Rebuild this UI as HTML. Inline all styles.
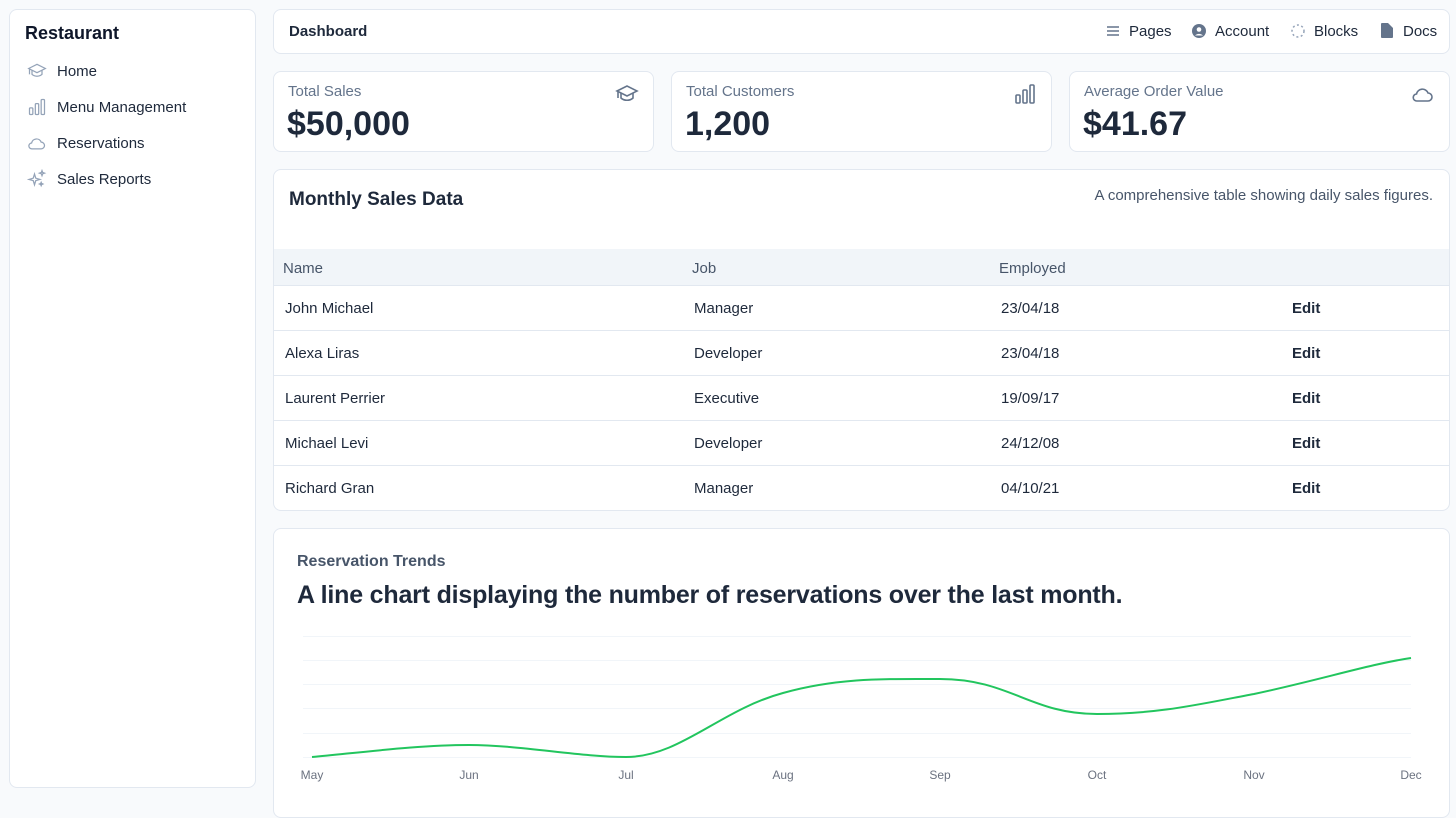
<!DOCTYPE html>
<html><head><style>
*{box-sizing:border-box;margin:0;padding:0}
body{width:1456px;height:800px;background:#f8fafc;font-family:"Liberation Sans",sans-serif;position:relative;overflow:hidden;color:#1e293b}
.card{position:absolute;background:#fff;border:1px solid #e2e8f0;border-radius:8px}
.abs{position:absolute;white-space:nowrap}
.nav{position:absolute;left:57px;font-size:15px;color:#1e293b}
.ic{position:absolute}
.lbl{font-size:15px;color:#64748b}
.big{font-size:34px;font-weight:bold;color:#1e293b}
.th{font-size:15px;color:#475569}
.td{font-size:15px;color:#1e293b}
</style></head><body>
<div class="card" style="left:9px;top:9px;width:247px;height:779px"></div>
<div class="abs" style="left:25px;top:23px;font-size:18px;font-weight:bold;color:#0f172a">Restaurant</div>
<svg class="ic" style="left:27px;top:61px" width="20" height="20" viewBox="0 0 24 24" fill="none" stroke="#94a3b8" stroke-width="1.5"><path d="M2 9l10-5 10 5-10 5z"/><path d="M6 11v5c3 3 9 3 12 0v-5"/><path d="M3 10v6"/></svg>
<div class="nav" style="top:63px">Home</div>
<svg class="ic" style="left:27px;top:97px" width="20" height="20" viewBox="0 0 24 24" fill="none" stroke="#94a3b8" stroke-width="1.5"><rect x="3" y="13" width="4" height="8" rx="1"/><rect x="10" y="8" width="4" height="13" rx="1"/><rect x="17" y="3" width="4" height="18" rx="1"/></svg>
<div class="nav" style="top:99px">Menu Management</div>
<svg class="ic" style="left:27px;top:133px" width="20" height="20" viewBox="0 0 24 24" fill="none" stroke="#94a3b8" stroke-width="1.5"><path d="M6 19h11a4 4 0 000-8 6 6 0 00-11.5 1A3.5 3.5 0 006 19z"/></svg>
<div class="nav" style="top:135px">Reservations</div>
<svg class="ic" style="left:27px;top:169px" width="20" height="20" viewBox="0 0 24 24" fill="none" stroke="#94a3b8" stroke-width="1.5"><path d="M9 6l1.5 5 5 1.5-5 1.5L9 19l-1.5-5-5-1.5 5-1.5z"/><path d="M18 2l.8 2.2L21 5l-2.2.8L18 8l-.8-2.2L15 5l2.2-.8z"/><path d="M17 16l.6 1.4L19 18l-1.4.6L17 20l-.6-1.4L15 18l1.4-.6z"/></svg>
<div class="nav" style="top:171px">Sales Reports</div>

<div class="card" style="left:273px;top:9px;width:1177px;height:45px"></div>
<div class="abs" style="left:289px;top:23px;font-size:15px;font-weight:bold;color:#1e293b">Dashboard</div>
<svg class="ic" style="left:1106px;top:25px" width="14" height="12"><path d="M1 2h12M1 6h12M1 10h12" stroke="#64748b" stroke-width="1.5"/></svg>
<div class="abs" style="left:1129px;top:23px;font-size:15px">Pages</div>
<svg class="ic" style="left:1192px;top:24px" width="14" height="14"><circle cx="7" cy="7" r="7" fill="#64748b"/><circle cx="7" cy="5.5" r="2.3" fill="#fff"/><path d="M3 11.5a5 4 0 018 0" fill="#fff"/></svg>
<div class="abs" style="left:1215px;top:23px;font-size:15px">Account</div>
<svg class="ic" style="left:1291px;top:24px" width="14" height="14"><circle cx="7" cy="7" r="6" fill="none" stroke="#94a3b8" stroke-width="1.5" stroke-dasharray="2 2.5"/></svg>
<div class="abs" style="left:1314px;top:23px;font-size:15px">Blocks</div>
<svg class="ic" style="left:1381px;top:23px" width="12" height="15"><path d="M0 1a1 1 0 011-1h6l5 5v9a1 1 0 01-1 1H1a1 1 0 01-1-1z" fill="#64748b"/></svg>
<div class="abs" style="left:1403px;top:23px;font-size:15px">Docs</div>

<div class="card" style="left:273px;top:71px;width:381px;height:81px"></div>
<div class="abs lbl" style="left:288px;top:83px">Total Sales</div>
<div class="abs big" style="left:287px;top:105px">$50,000</div>
<svg class="ic" style="left:615px;top:82px" width="24" height="24" viewBox="0 0 24 24" fill="none" stroke="#64748b" stroke-width="1.6"><path d="M2 9l10-5 10 5-10 5z"/><path d="M6 11v5c3 3 9 3 12 0v-5"/><path d="M3 10v6"/></svg>
<div class="card" style="left:671px;top:71px;width:381px;height:81px"></div>
<div class="abs lbl" style="left:686px;top:83px">Total Customers</div>
<div class="abs big" style="left:685px;top:105px">1,200</div>
<svg class="ic" style="left:1014px;top:82px" width="24" height="24" viewBox="0 0 24 24" fill="none" stroke="#64748b" stroke-width="1.6"><rect x="2" y="13" width="4" height="8" rx="1"/><rect x="9" y="8" width="4" height="13" rx="1"/><rect x="16" y="3" width="4" height="18" rx="1"/></svg>
<div class="card" style="left:1069px;top:71px;width:381px;height:81px"></div>
<div class="abs lbl" style="left:1084px;top:83px">Average Order Value</div>
<div class="abs big" style="left:1083px;top:105px">$41.67</div>
<svg class="ic" style="left:1411px;top:82px" width="24" height="24" viewBox="0 0 24 24" fill="none" stroke="#64748b" stroke-width="1.6"><path d="M6 19h11a4 4 0 000-8 6 6 0 00-11.5 1A3.5 3.5 0 006 19z"/></svg>

<div class="card" style="left:273px;top:169px;width:1177px;height:342px;overflow:hidden">
 <div class="abs" style="left:15px;top:19px;font-size:19px;font-weight:bold;color:#1e293b">Monthly Sales Data</div>
 <div class="abs" style="right:16px;top:17px;font-size:15px;color:#475569">A comprehensive table showing daily sales figures.</div>
 <div class="abs" style="left:0;top:79px;width:1177px;height:37px;background:#f1f5f9;border-bottom:1px solid #e2e8f0"></div>
 <div class="abs th" style="left:9px;top:90px">Name</div>
 <div class="abs th" style="left:418px;top:90px">Job</div>
 <div class="abs th" style="left:725px;top:90px">Employed</div>
</div>
<div id="rows"></div>
<script>
var d=[["John Michael","Manager","23/04/18"],["Alexa Liras","Developer","23/04/18"],["Laurent Perrier","Executive","19/09/17"],["Michael Levi","Developer","24/12/08"],["Richard Gran","Manager","04/10/21"]];
var h="";d.forEach(function(r,i){var y=286+45*i;
if(i<4)h+='<div class="abs" style="left:274px;top:'+(y+44)+'px;width:1175px;height:1px;background:#e2e8f0"></div>';
var ty=y+14;
h+='<div class="abs td" style="left:285px;top:'+ty+'px">'+r[0]+'</div><div class="abs td" style="left:694px;top:'+ty+'px">'+r[1]+'</div><div class="abs td" style="left:1001px;top:'+ty+'px">'+r[2]+'</div><div class="abs td" style="left:1292px;top:'+ty+'px;font-weight:bold">Edit</div>';});
document.getElementById("rows").innerHTML=h;
</script>

<div class="card" style="left:273px;top:528px;width:1177px;height:290px"></div>
<div class="abs" style="left:297px;top:553px;font-size:16px;font-weight:bold;color:#475569">Reservation Trends</div>
<div class="abs" style="left:297px;top:581px;font-size:25px;font-weight:bold;color:#1e293b;letter-spacing:-0.2px">A line chart displaying the number of reservations over the last month.</div>
<svg class="ic" style="left:0;top:0" width="1456" height="800">
<g stroke="#f1f5f9" stroke-width="1"><path d="M303 636.5H1411M303 660.5H1411M303 684.5H1411M303 708.5H1411M303 733.5H1411M303 757.5H1411"/></g>
<path d="M312 757C365 752 420 745 469 745C520 745 580 757 626 757C680 757 720 710 783 693C840 677 890 679 940 679C1010 679 1030 714 1097 714C1160 714 1200 704 1254 694C1320 680 1370 664 1411 658" fill="none" stroke="#22c55e" stroke-width="2"/>
<g font-family="Liberation Sans" font-size="12" fill="#6b7280" text-anchor="middle">
<text x="312" y="779">May</text><text x="469" y="779">Jun</text><text x="626" y="779">Jul</text><text x="783" y="779">Aug</text><text x="940" y="779">Sep</text><text x="1097" y="779">Oct</text><text x="1254" y="779">Nov</text><text x="1411" y="779">Dec</text></g>
</svg>
</body></html>
